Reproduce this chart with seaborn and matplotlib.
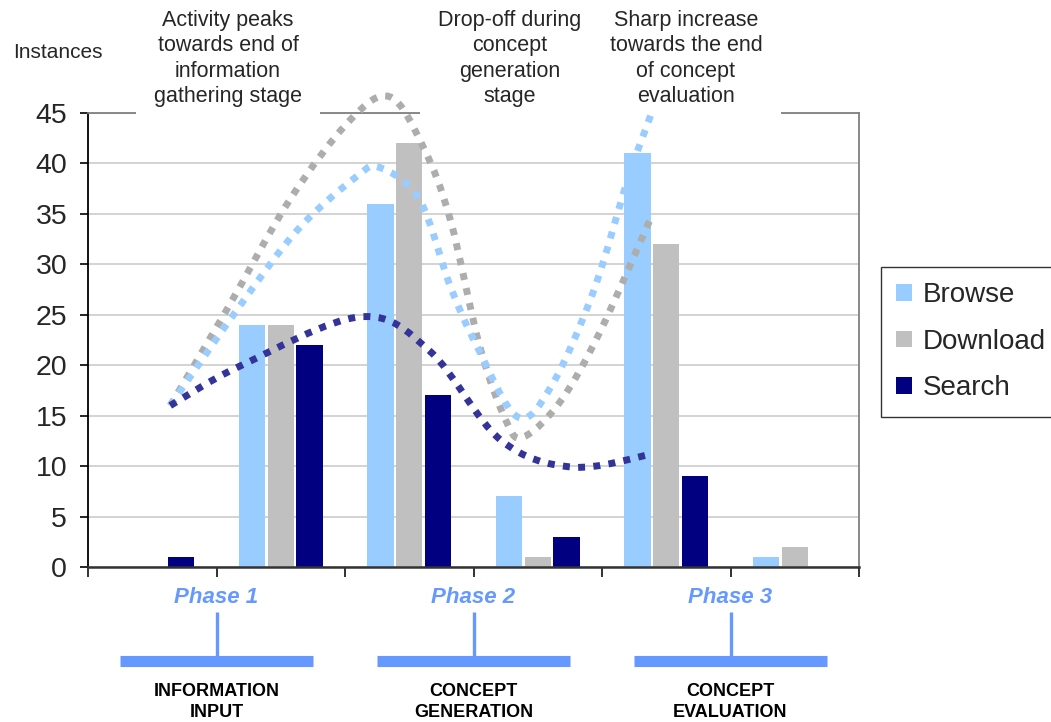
import numpy as np
import pandas as pd
import matplotlib
matplotlib.use("Agg")
import matplotlib.pyplot as plt
import matplotlib.transforms as mtransforms
from matplotlib.path import Path
from matplotlib.patches import PathPatch, Patch
from matplotlib.ticker import FixedLocator, NullFormatter
import seaborn as sns

# ---- data -------------------------------------------------------------
stages = ["S1", "S2", "S3", "S4", "S5", "S6"]
activities = ["Browse", "Download", "Search"]
browse = [0, 24, 36, 7, 41, 1]
download = [0, 24, 42, 1, 32, 2]
search = [1, 22, 17, 3, 9, 0]

phase_labels = ["Phase 1", "Phase 2", "Phase 3"]
phase_names = ["INFORMATION\nINPUT", "CONCEPT\nGENERATION", "CONCEPT\nEVALUATION"]
phase_centers = [0.5, 2.5, 4.5]

notes = [
    "Activity peaks\ntowards end of\ninformation\ngathering stage",
    "Drop-off during\nconcept\ngeneration\nstage",
    "Sharp increase\ntowards the end\nof concept\nevaluation",
]

# hand-drawn trend sketches (stage position, instances)
trend_browse_x = [0.14, 0.66, 1.13, 1.59, 1.77, 2.08, 2.32, 2.53, 2.84, 3.10, 3.43, 3.70, 3.88]
trend_browse_y = [16.0, 25.5, 33.4, 38.7, 39.6, 36.4, 27.8, 21.8, 14.9, 17.8, 27.2, 38.4, 44.8]
trend_download_x = [0.14, 0.58, 1.07, 1.54, 1.85, 2.11, 2.32, 2.55, 2.76, 2.89, 3.17, 3.48, 3.89]
trend_download_y = [16.0, 25.5, 36.4, 44.3, 46.6, 41.6, 34.4, 21.8, 14.3, 12.9, 16.3, 23.2, 34.9]
trend_search_x = [0.14, 0.68, 1.62, 2.16, 2.71, 3.27, 3.89]
trend_search_y = [16.0, 19.9, 24.8, 21.4, 12.6, 9.9, 11.2]

colors = {"Browse": "#99CCFF", "Download": "#C0C0C0", "Search": "#000080"}
trend_colors = {"Browse": "#99CCFF", "Download": "#ADADAD", "Search": "#333399"}

df = pd.DataFrame({
    "stage": stages * 3,
    "activity": np.repeat(activities, len(stages)),
    "instances": browse + download + search,
})

# ---- style ------------------------------------------------------------
sns.set_style("white")
plt.rcParams["font.family"] = ["Liberation Sans", "DejaVu Sans"]

fig = plt.figure(figsize=(10.51, 7.22), dpi=100)
ax = fig.add_axes([88 / 1051, 1 - 567 / 722, (859 - 88) / 1051, 454 / 722])

sns.barplot(data=df, x="stage", y="instances", hue="activity",
            order=stages, hue_order=activities, palette=colors,
            width=0.67, gap=0.08, saturation=1, errorbar=None,
            linewidth=0, legend=False, ax=ax, zorder=2)


# ---- dotted trend sketches ---------------------------------------------
def smooth_path(xs, ys):
    pts = np.column_stack([xs, ys]).astype(float)
    n = len(pts)
    verts = [pts[0]]
    codes = [Path.MOVETO]
    for i in range(n - 1):
        p0 = pts[i - 1] if i > 0 else pts[i]
        p1, p2 = pts[i], pts[i + 1]
        p3 = pts[i + 2] if i + 2 < n else pts[i + 1]
        verts += [p1 + (p2 - p0) / 6, p2 - (p3 - p1) / 6, p2]
        codes += [Path.CURVE4] * 3
    return Path(verts, codes)


for name, xs, ys in [("Download", trend_download_x, trend_download_y),
                     ("Browse", trend_browse_x, trend_browse_y),
                     ("Search", trend_search_x, trend_search_y)]:
    patch = PathPatch(smooth_path(xs, ys), fill=False, edgecolor=trend_colors[name],
                      linewidth=5, linestyle=(0, (1, 1.2)), capstyle="butt",
                      zorder=6, clip_on=False)
    ax.add_patch(patch)

# ---- phase markers below the axis --------------------------------------
trans = mtransforms.blended_transform_factory(ax.transData, ax.transAxes)
phase_blue = "#6699FF"
for c, lab, name in zip(phase_centers, phase_labels, phase_names):
    ax.text(c, -0.068, lab, transform=trans, ha="center", va="center",
            fontsize=16, fontweight="bold", fontstyle="italic",
            color=phase_blue, clip_on=False)
    ax.add_line(plt.Line2D([c, c], [-0.099, -0.200], transform=trans,
                           color=phase_blue, linewidth=2.4,
                           solid_capstyle="butt", clip_on=False))
    ax.add_line(plt.Line2D([c - 0.75, c + 0.75], [-0.207, -0.207], transform=trans,
                           color=phase_blue, linewidth=8,
                           solid_capstyle="butt", clip_on=False))
    ax.text(c, -0.298, name, transform=trans, ha="center", va="center",
            fontsize=13, fontweight="bold", color="black",
            linespacing=1.3, clip_on=False)

# ---- axes ---------------------------------------------------------------
ax.set_xlim(-0.5, 5.5)
ax.set_ylim(0, 45)
ax.set_yticks(np.arange(0, 46, 5))
ax.xaxis.set_major_locator(FixedLocator(np.arange(-0.5, 6, 1)))
ax.xaxis.set_major_formatter(NullFormatter())
ax.set_xlabel("")
ax.set_ylabel("")
ax.tick_params(axis="y", direction="out", length=6, width=1.2, color="black",
               labelsize=20.5, pad=9, left=True)
ax.tick_params(axis="x", which="major", direction="out", length=7, width=1.3,
               color="#222222", bottom=True)
ax.yaxis.grid(True, color="#C8C8C8", linewidth=1.1)
ax.xaxis.grid(False)
ax.set_axisbelow(True)

for side in ["left", "bottom"]:
    ax.spines[side].set_color("black")
    ax.spines[side].set_linewidth(1.3)
for side in ["top", "right"]:
    ax.spines[side].set_visible(True)
    ax.spines[side].set_color("#808080")
    ax.spines[side].set_linewidth(1.3)
ax.spines["bottom"].set_color("#333333")
ax.spines["bottom"].set_linewidth(1.8)

# ---- legend -------------------------------------------------------------
handles = [Patch(facecolor=colors[a], edgecolor="none") for a in activities]
leg = fig.legend(handles, activities, loc="upper left",
                 bbox_to_anchor=(881 / 1051, 1 - 267 / 722),
                 bbox_transform=fig.transFigure, borderaxespad=0,
                 fontsize=20, frameon=True, fancybox=False, shadow=False,
                 handlelength=0.55, handleheight=0.55, handletextpad=0.42,
                 labelspacing=0.74, borderpad=0.55)
leg.get_frame().set_edgecolor("black")
leg.get_frame().set_linewidth(1.0)

# ---- annotations --------------------------------------------------------
fig.text(13 / 1051, 1 - 52 / 722, "Instances", fontsize=15,
         ha="left", va="center")

# notes sit inside the axes' draw order so the sketches stay on top of them
note_x = [228, 510, 686]
for x, t in zip(note_x, notes):
    ax.text(x / 1051, 1 - 10 / 722, t, transform=fig.transFigure,
            fontsize=15.5, ha="center", va="top",
            multialignment="center", linespacing=1.27, zorder=4, clip_on=False,
            bbox=dict(boxstyle="square,pad=0.85", facecolor="white",
                      edgecolor="none"))

fig.savefig("out.png", dpi=100)
